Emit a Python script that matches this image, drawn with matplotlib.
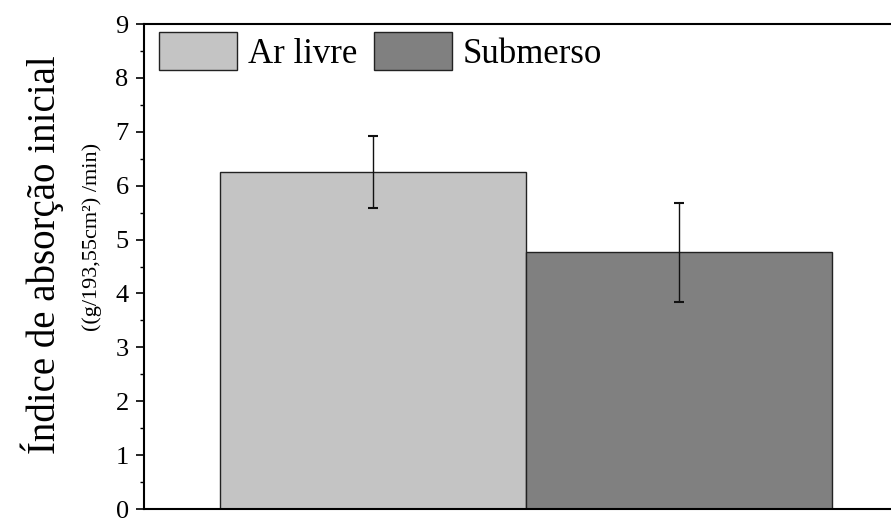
import matplotlib.pyplot as plt
import numpy as np

plt.rcParams['font.family'] = ['Liberation Serif', 'DejaVu Serif']

groups = ['Ar livre', 'Submerso']
values = [6.26, 4.76]
errors = [0.67, 0.92]
colors = ['#c4c4c4', '#808080']

fig = plt.figure(figsize=(8.91, 5.19), dpi=100)
ax = fig.add_axes([144/891, 10/519, 1.0 - 144/891 + 0.02, (509-24)/519])

x = np.arange(len(groups))
for i in range(len(groups)):
    ax.bar(x[i], values[i], width=1.0, color=colors[i], edgecolor='#222222',
           linewidth=1.0, label=groups[i], zorder=2)
    ax.errorbar(x[i], values[i], yerr=errors[i], fmt='none', ecolor='#111111',
                elinewidth=1.0, capsize=3.6, capthick=1.5, zorder=3)

ax.set_xlim(-0.75, 1.75)
ax.set_ylim(0, 9)
ax.set_yticks(range(0, 10))
ax.set_yticks(np.arange(0.5, 9, 1), minor=True)
ax.set_xticks([])
ax.tick_params(axis='y', which='major', direction='out', length=6, width=1.2,
               labelsize=19, pad=5)
ax.tick_params(axis='y', which='minor', direction='out', length=3, width=1.0)
for s in ['left', 'top', 'bottom']:
    ax.spines[s].set_linewidth(1.5)
ax.spines['right'].set_visible(False)

ax.legend(loc='upper left', bbox_to_anchor=(159/891, 1 - 32/519),
          bbox_transform=fig.transFigure, ncol=2, frameon=False, fontsize=25,
          handlelength=2.25, handleheight=1.3, columnspacing=0.5,
          handletextpad=0.3, borderaxespad=0, borderpad=0)

fig.text(42/891, 1 - 255/519, 'Índice de absorção inicial', rotation=90,
         ha='center', va='center', fontsize=28)
fig.text(92/891, 1 - 237/519, '((g/193,55cm²) /min)', rotation=90,
         ha='center', va='center', fontsize=16)

fig.savefig('out.png', dpi=100)
